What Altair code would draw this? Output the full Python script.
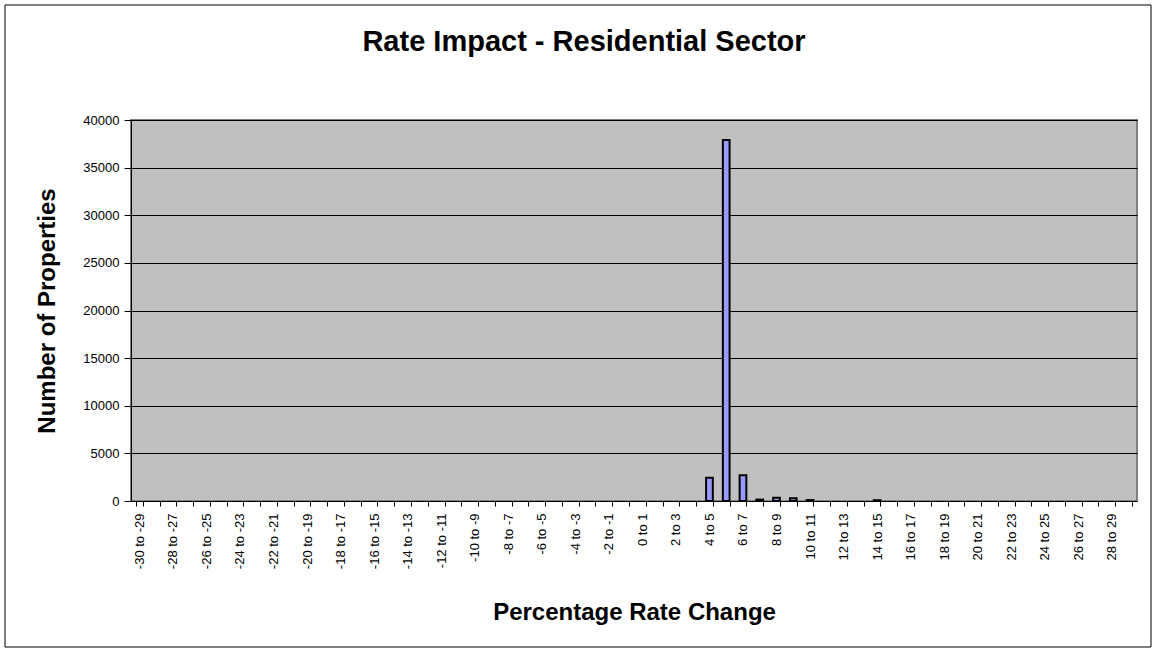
import altair as alt
import pandas as pd

# Percentage-change bins, one per whole percent from -30 to +30
bins = [f"{lo} to {lo + 1}" for lo in range(-30, 30)]

# Number of properties falling in each bin
counts = [
    0, 0, 0, 0, 0, 0, 0, 0, 0, 0,   # -30 .. -21
    0, 0, 0, 0, 0, 0, 0, 0, 0, 0,   # -20 .. -11
    0, 0, 0, 0, 0, 0, 0, 0, 0, 0,   # -10 .. -1
    0, 0, 0, 0, 2450, 37900, 2700, 150, 350, 300,   # 0 .. 9
    100, 0, 0, 0, 80, 0, 0, 0, 0, 0,   # 10 .. 19
    0, 0, 0, 0, 0, 0, 0, 0, 0, 0,   # 20 .. 29
]

y_ticks = [0, 5000, 10000, 15000, 20000, 25000, 30000, 35000, 40000]

df = pd.DataFrame({"bin": bins, "count": counts})

FONT = "Liberation Sans"
W, H = 1006, 381
PAD = {"left": 131, "top": 120, "right": 20, "bottom": 152}

x_enc = alt.X(
    "bin:N",
    sort=bins,
    scale=alt.Scale(domain=bins, paddingInner=0.6, paddingOuter=0.3),
    axis=alt.Axis(
        title="Percentage Rate Change",
        titleFont=FONT, titleFontSize=24, titleFontWeight="bold", titleColor="black",
        titleX=W / 2, titleY=118, titleAlign="center", titleBaseline="alphabetic",
        labelFont=FONT, labelFontSize=13, labelColor="black",
        labelAngle=270, labelAlign="right", labelBaseline="middle",
        labelPadding=7, labelOverlap=False,
        labelExpr="(toNumber(split(datum.value, ' ')[0]) % 2 == 0) ? datum.value : ''",
        tickBand="extent", tickColor="black", tickSize=5,
        domain=False, grid=False,
    ),
)

y_enc = alt.Y(
    "count:Q",
    scale=alt.Scale(domain=[0, 40000], nice=False),
    axis=alt.Axis(
        title="Number of Properties",
        titleFont=FONT, titleFontSize=24, titleFontWeight="bold", titleColor="black",
        titleAngle=270, titleX=-84, titleY=H / 2,
        titleAlign="center", titleBaseline="middle",
        values=y_ticks, format="d",
        labelFont=FONT, labelFontSize=13, labelColor="black", labelPadding=5,
        tickColor="black", tickSize=7,
        domain=True, domainColor="black", domainWidth=1,
        grid=True, gridColor="black", gridWidth=1, gridOpacity=1,
    ),
)

bars = (
    alt.Chart(df)
    .transform_filter("datum.count > 0")
    .mark_bar(fill="#9999FF", stroke="black", strokeWidth=2, opacity=1)
    .encode(x=x_enc, y=y_enc)
)

# Outer chart frame
frame = alt.Chart(df).mark_rect(fill=None, stroke="black", strokeWidth=1).encode(
    x=alt.value(-126), x2=alt.value(1020), y=alt.value(-115), y2=alt.value(527)
).transform_filter("datum.bin == '0 to 1'")

chart = (
    alt.layer(bars, frame)
    .properties(
        width=W,
        height=H,
        title=alt.TitleParams(
            "Rate Impact - Residential Sector",
            font=FONT, fontSize=29, fontWeight="bold", color="black",
            anchor="middle", offset=0, baseline="alphabetic", dx=-50, dy=75,
        ),
        autosize=alt.AutoSizeParams(type="none"),
        padding=PAD,
        background="white",
    )
    .configure_view(fill="#C0C0C0", stroke="#808080", strokeWidth=2)
)

chart.save("out.html", embed_options={"renderer": "svg", "actions": False})
